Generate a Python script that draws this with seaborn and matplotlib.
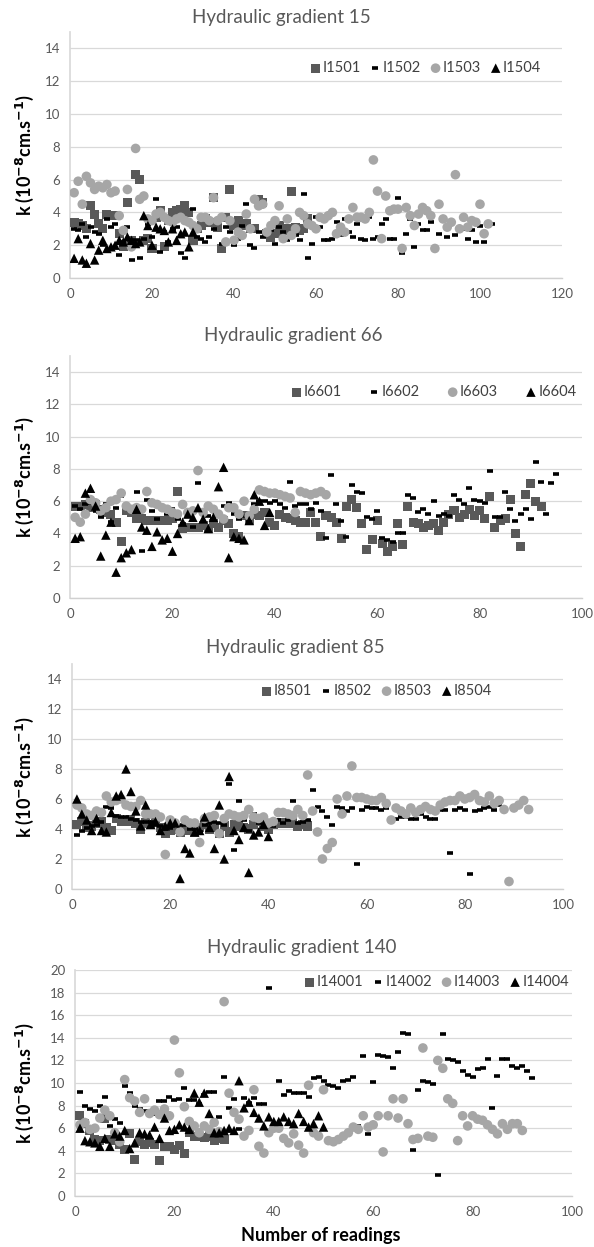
import numpy as np
import pandas as pd
import matplotlib
matplotlib.use("Agg")
import matplotlib.pyplot as plt
import seaborn as sns

sns.set_theme(style="white")
plt.rcParams['font.family'] = ['Lato', 'DejaVu Sans']

# ---------------- data (k values, 1e-8 cm/s; x = reading number 1..N) ----------------
# Hydraulic gradient 15
i1501 = [3.4,3.3,3.2,3.0,4.4,3.9,3.3,3.0,3.9,3.8,3.8,2.7,1.9,4.6,2.3,6.3,6.0,2.3,2.4,1.8,
         3.7,4.1,1.9,3.5,4.0,4.1,4.2,4.4,4.0,2.3,3.0,3.2,3.6,3.4,4.9,3.1,1.8,3.7,5.4,3.2,
         3.5,3.2,3.3,3.0,3.0,4.8,4.6,2.7,2.5,2.7,3.2,2.9,3.0,5.3,3.1,2.9,3.0,3.6]
i1502 = [3.0,2.9,3.3,2.5,3.1,2.8,2.7,2.0,3.6,3.1,3.3,1.4,2.2,3.1,1.1,2.3,1.2,2.4,3.3,2.5,
         4.8,1.6,2.8,2.2,3.0,3.1,1.5,1.2,3.4,4.2,2.5,2.4,2.2,2.5,3.0,3.6,2.1,3.1,2.8,2.0,
         2.4,3.2,4.5,2.0,1.8,2.8,2.5,2.7,2.9,2.1,3.1,2.8,2.3,2.6,2.6,2.3,5.1,1.2,2.1,3.7,
         3.1,2.3,2.3,2.4,3.4,2.6,3.6,2.8,2.5,3.3,2.4,2.3,3.7,2.4,2.5,3.3,3.6,2.4,2.4,4.9,
         1.5,2.7,3.6,1.9,3.3,2.9,2.9,3.4,1.8,2.7,3.6,2.5,3.3,2.6,2.9,3.0,2.4,2.9,2.2,3.2,
         2.2,3.2,3.3]
i1503 = [5.2,5.9,4.5,6.2,5.8,5.4,5.6,5.5,5.7,5.2,5.3,3.8,2.9,5.4,1.9,7.9,4.8,5.0,3.6,3.5,
         3.9,4.0,3.7,3.5,3.4,3.6,3.7,3.5,3.4,3.2,3.0,3.7,3.7,3.5,4.9,3.5,3.7,2.2,3.5,2.3,
         2.8,2.6,3.9,3.0,4.8,4.4,4.5,2.8,3.2,3.5,4.4,2.4,3.6,2.6,3.0,4.0,3.8,3.3,3.2,3.0,
         3.7,3.6,3.8,4.0,2.7,3.1,2.8,3.6,4.3,3.7,3.7,3.6,4.0,7.2,5.3,2.4,5.0,4.1,4.2,4.2,
         1.8,4.3,3.8,3.2,3.9,4.3,4.1,3.8,1.8,4.5,3.6,3.1,3.4,6.3,3.0,3.7,3.1,3.5,3.4,4.5,
         2.7,3.3]
i1504 = [1.2,2.4,1.1,0.9,2.1,1.1,1.7,2.3,1.8,1.9,2.0,2.3,2.2,2.5,2.3,2.1,2.2,3.8,3.2,2.0,
         3.1,3.0,2.9,2.2,3.0,2.3,2.7,2.8,1.9,2.8]

# Hydraulic gradient 66
i6601 = [5.7,5.7,5.8,5.6,5.8,5.5,5.3,5.2,4.7,3.5,5.4,5.3,4.9,4.9,4.8,4.8,4.8,4.8,4.8,4.9,
         6.6,4.3,4.4,4.4,4.4,4.5,4.3,4.6,4.4,4.8,4.6,4.0,3.8,5.1,4.8,5.2,5.1,5.3,4.7,4.5,
         5.2,5.0,4.9,4.8,4.7,4.7,5.3,4.7,3.8,5.1,5.0,4.7,3.7,5.7,6.1,5.6,4.6,3.0,3.6,4.8,
         3.4,2.9,3.2,4.6,3.3,5.7,4.7,4.6,4.4,4.5,4.6,4.2,4.7,5.2,5.4,5.0,5.2,5.5,5.1,5.4,
         4.9,6.3,4.4,4.8,4.9,6.1,4.0,3.2,6.4,7.1,6.0,5.7]
i6602 = [5.7,5.5,5.8,5.9,5.4,5.0,5.8,4.7,5.6,6.3,5.7,5.5,6.6,2.9,6.1,5.4,4.9,5.6,5.2,5.5,
         4.9,4.6,5.2,4.4,7.1,5.3,5.1,4.9,5.3,5.7,5.9,5.2,4.9,5.1,4.7,5.8,6.0,6.0,5.9,6.0,
         5.8,5.6,7.2,5.7,5.8,5.8,5.5,5.9,5.4,3.7,7.6,5.8,4.8,3.8,7.0,6.6,6.5,5.0,4.9,5.4,
         3.7,3.6,3.5,4.0,4.0,6.4,6.2,5.3,5.5,5.2,6.0,5.1,5.2,5.1,6.4,6.1,5.8,6.8,6.1,6.0,
         5.9,7.9,5.0,5.0,6.6,5.5,4.8,5.2,5.5,4.9,8.4,7.2,5.2,7.1,7.7]
i6603 = [5.0,4.7,5.2,6.1,5.9,5.4,5.6,6.0,6.1,6.5,5.7,5.5,5.6,5.5,6.6,5.9,5.8,5.6,5.5,5.3,
         5.2,5.8,5.3,5.4,7.9,5.3,5.7,5.5,5.2,4.9,5.6,5.6,5.2,6.0,5.1,5.5,6.7,6.6,6.5,6.5,
         6.4,6.3,6.2,5.3,6.6,6.5,6.4,6.5,6.6,6.4]
i6604 = [3.7,3.8,6.5,6.8,5.7,2.6,3.9,4.7,1.6,2.5,2.8,3.0,5.5,4.4,4.2,3.2,4.1,3.6,3.7,2.9,
         4.0,4.7,5.2,5.0,5.6,4.9,4.3,5.0,6.9,8.1,2.5,3.8,3.7,3.6,4.8,6.4,6.0,4.5,5.3]

# Hydraulic gradient 85
i8501 = [4.3,4.5,4.1,4.2,4.4,4.5,4.1,3.9,4.7,4.5,4.5,4.6,4.4,4.0,4.4,4.3,4.5,4.1,3.7,3.9,
         4.0,3.8,3.9,3.9,3.8,4.1,4.3,4.0,4.1,3.7,4.2,3.8,4.3,4.2,4.1,4.0,4.3,4.5,4.2,4.0,
         4.3,4.4,4.4,4.4,4.4,4.2,4.3,4.2]
i8502 = [3.6,3.9,4.1,4.2,4.3,4.5,5.5,5.4,4.9,4.8,4.8,4.7,4.6,4.5,4.5,4.5,4.3,4.2,4.0,4.1,
         4.2,4.3,4.3,4.0,4.0,3.8,4.3,4.4,4.5,4.4,4.3,7.0,2.6,5.9,4.6,3.9,5.0,4.4,4.6,4.4,
         4.2,4.6,4.4,4.6,5.9,4.4,4.5,4.6,6.6,5.5,5.2,4.8,4.3,5.5,5.4,5.2,5.4,1.7,5.3,5.5,
         5.4,5.4,5.3,5.4,4.7,4.7,4.8,4.8,4.7,4.7,5.0,4.8,4.7,4.7,5.3,5.3,2.4,5.3,5.4,5.3,
         1.0,5.2,5.3,5.4,5.5,5.3,5.6]
i8503 = [5.6,5.4,5.0,4.9,5.2,5.1,6.2,5.8,5.9,6.0,5.6,5.5,5.5,5.9,5.0,5.0,5.0,4.8,2.3,4.6,
         4.4,3.8,4.6,4.4,4.4,3.1,4.7,4.8,4.9,3.7,4.7,5.0,4.9,4.8,4.9,5.3,4.8,4.7,4.8,4.4,
         4.5,5.1,5.1,5.0,4.9,5.3,4.9,7.6,5.2,3.8,2.0,2.7,3.1,6.0,5.0,6.2,8.2,6.1,6.1,6.0,
         5.9,5.9,6.1,5.7,4.6,5.4,5.2,5.0,5.4,5.1,5.3,5.5,5.3,5.2,5.6,5.8,5.9,5.9,6.2,6.0,
         6.1,6.3,5.9,5.8,6.2,5.7,5.9,5.3,0.5,5.4,5.6,5.9,5.3]
i8504 = [6.0,5.0,4.6,3.9,4.7,3.9,3.8,5.1,6.2,6.3,8.0,6.5,5.2,4.2,5.6,4.3,4.5,3.9,4.2,4.4,
         4.4,0.7,2.7,2.4,3.8,3.9,4.8,4.1,2.7,5.6,2.0,7.5,3.9,3.3,4.1,1.1,3.6,3.8,4.3,3.5]

# Hydraulic gradient 140
i14001 = [7.1,6.4,5.8,5.0,4.9,6.9,5.0,4.9,4.6,4.1,5.5,3.2,4.8,4.6,4.7,4.6,3.1,4.4,4.4,4.1,
          4.5,3.8,5.6,5.3,5.3,5.2,5.3,4.9,5.1,5.0]
i14002 = [9.2,8.0,7.7,7.5,8.0,8.8,6.2,6.8,6.5,9.7,9.1,8.0,7.7,7.5,7.3,7.3,8.4,8.4,8.8,8.5,
          8.6,9.6,8.5,8.5,8.1,8.9,9.2,9.2,7.0,10.5,7.8,8.6,5.9,8.7,8.2,8.7,8.1,8.1,18.4,6.0,
          10.2,8.9,9.3,9.1,9.1,9.1,8.8,10.4,10.5,10.2,9.8,9.7,9.6,10.2,10.3,10.5,6.2,12.4,5.5,10.1,
          12.5,12.4,12.3,11.3,12.7,14.4,14.3,4.1,9.4,10.2,10.1,9.9,1.9,14.3,12.1,12.0,11.9,11.1,10.7,10.5,
          11.2,11.3,12.1,7.8,10.6,12.1,12.1,11.5,11.3,11.5,11.1,10.4]
i14003 = [6.3,6.5,5.9,6.0,6.9,7.6,7.1,5.6,4.8,10.3,8.7,8.4,7.4,8.6,7.3,7.6,7.2,7.7,7.1,13.8,
          10.9,7.9,6.6,6.2,5.6,6.2,5.9,6.5,5.7,17.2,9.1,7.4,6.8,5.3,5.8,9.4,4.4,3.8,5.6,6.0,
          6.0,5.1,4.7,5.5,4.5,3.8,9.8,5.6,5.3,9.4,4.9,4.8,5.0,5.3,5.6,6.1,5.9,7.1,6.1,6.3,
          7.1,3.9,7.1,8.6,6.9,8.6,6.4,5.0,5.1,13.1,5.3,5.2,12.0,11.3,8.6,8.2,4.9,7.1,6.2,7.1,
          6.8,6.7,6.3,5.9,5.5,6.4,5.9,6.4,6.4,5.8]
i14004 = [6.0,4.9,4.8,4.7,4.4,5.1,4.4,5.5,5.3,5.8,4.2,4.7,5.6,5.5,5.4,6.1,5.1,6.9,5.8,5.9,
          6.3,6.1,5.9,9.1,8.3,9.1,7.3,5.6,5.6,5.8,6.0,5.8,10.2,7.8,8.3,7.4,6.9,6.2,7.0,6.6,
          6.6,7.0,6.6,6.4,7.3,6.6,6.1,6.4,7.1,6.1]

panels = [
    dict(title="Hydraulic gradient 15", series=[("I1501", i1501), ("I1502", i1502), ("I1503", i1503), ("I1504", i1504)],
         box=(70, 32, 562, 278), xmax=120, ymax=15, ytop=14, tcx=281, tcy=18, leg=(425, 68), colsp=0.55),
    dict(title="Hydraulic gradient 66", series=[("I6601", i6601), ("I6602", i6602), ("I6603", i6603), ("I6604", i6604)],
         box=(70, 356, 582, 598), xmax=100, ymax=15, ytop=14, tcx=293, tcy=335, leg=(433, 392), colsp=1.8),
    dict(title="Hydraulic gradient 85", series=[("I8501", i8501), ("I8502", i8502), ("I8503", i8503), ("I8504", i8504)],
         box=(72, 664, 563, 889), xmax=100, ymax=15, ytop=14, tcx=295, tcy=648, leg=(376, 691), colsp=0.55),
    dict(title="Hydraulic gradient 140", series=[("I14001", i14001), ("I14002", i14002), ("I14003", i14003), ("I14004", i14004)],
         box=(75, 970, 572, 1196), xmax=100, ymax=20, ytop=20, tcx=302, tcy=947, leg=(436, 982), colsp=0.55),
]

styles = [
    dict(marker="s", color="#595959", s=42),
    dict(marker="_", color="#000000", s=22),
    dict(marker="o", color="#a6a6a6", s=48),
    dict(marker="^", color="#000000", s=46),
]

W, H = 594, 1247
fig = plt.figure(figsize=(W / 100, H / 100), dpi=100)
fig.patch.set_facecolor("white")

for p in panels:
    L, T, R, B = p["box"]
    ax = fig.add_axes([L / W, (H - B) / H, (R - L) / W, (B - T) / H])
    for (name, vals), st in zip(p["series"], styles):
        df = pd.DataFrame({"x": np.arange(1, len(vals) + 1), "k": vals})
        if st["marker"] == "_":
            sns.scatterplot(data=df, x="x", y="k", ax=ax, marker="_", color=st["color"],
                            s=st["s"], linewidth=2.6, label=name, zorder=3)
        else:
            sns.scatterplot(data=df, x="x", y="k", ax=ax, marker=st["marker"], color=st["color"],
                            s=st["s"], linewidth=0, edgecolor="none", label=name, zorder=3)
    ax.set_xlim(0, p["xmax"])
    ax.set_ylim(0, p["ymax"])
    ax.set_xticks(np.arange(0, p["xmax"] + 1, 20))
    ax.set_yticks(np.arange(0, p["ytop"] + 1, 2))
    ax.grid(axis="y", color="#d9d9d9", linewidth=0.9, zorder=0)
    ax.grid(axis="x", visible=False)
    ax.set_axisbelow(True)
    for side in ["top", "right"]:
        ax.spines[side].set_visible(False)
    ax.spines["left"].set_color("#d9d9d9")
    ax.spines["bottom"].set_color("#d0d0d0")
    ax.spines["bottom"].set_linewidth(1.0)
    ax.tick_params(axis="both", length=0, labelsize=9.5, labelcolor="#595959", pad=7)
    ax.set_xlabel("")
    ax.set_ylabel("")
    fig.text(p["tcx"] / W, (H - p["tcy"]) / H, p["title"], ha="center", va="center",
             fontsize=13.5, color="#595959")
    fig.text(25 / W, (H - (T + B) / 2) / H, r"k (10$^{\mathbf{-8}}$cm.s$^{\mathbf{-1}}$)",
             rotation=90, ha="center", va="center", fontsize=13, fontweight="bold", color="black")
    leg = ax.legend(loc="center", bbox_to_anchor=(p["leg"][0] / W, (H - p["leg"][1]) / H),
                    bbox_transform=fig.transFigure, ncol=4, frameon=False, fontsize=10.5,
                    handletextpad=0.05, columnspacing=p["colsp"], handlelength=0.9,
                    borderpad=0, markerscale=1.0)
    for t in leg.get_texts():
        t.set_color("#404040")

fig.text(321 / W, (H - 1235) / H, "Number of readings", ha="center", va="center",
         fontsize=13, fontweight="bold", color="black")

fig.savefig("out.png", dpi=100, facecolor="white")
